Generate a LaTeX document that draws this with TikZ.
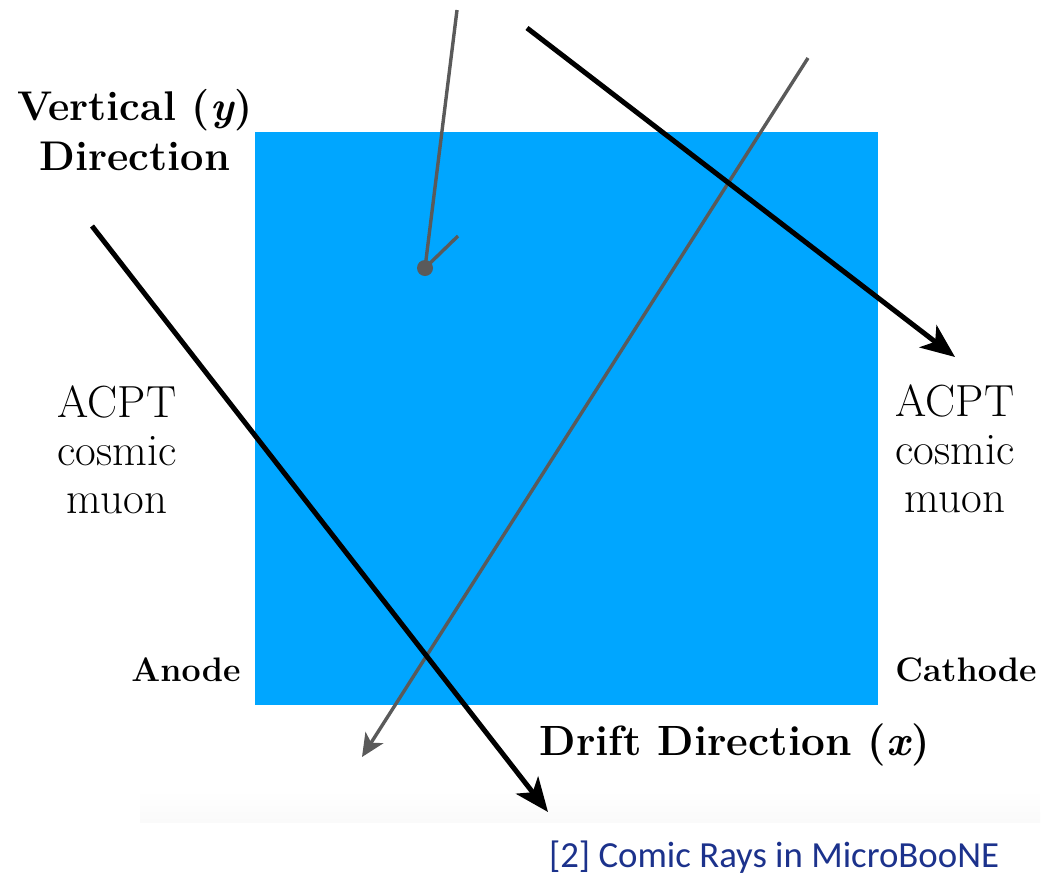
\documentclass[tikz,border=0pt]{standalone}
\usepackage{fontspec}
\newfontfamily\capfont{Carlito}
\usetikzlibrary{arrows.meta}
\definecolor{tpcblue}{RGB}{0,166,255}
\definecolor{trkgray}{RGB}{90,90,90}
\definecolor{capblue}{RGB}{28,50,140}
\tikzset{
  bigbold/.style={font=\fontsize{41.5}{50}\selectfont\bfseries, align=center, inner sep=0pt},
  smallbold/.style={font=\fontsize{34}{40}\selectfont\bfseries, inner sep=0pt},
  muonlabel/.style={font=\fontsize{45}{48}\selectfont, align=center, inner sep=0pt},
  blacktrack/.style={line width=5pt, black, -{Stealth[length=34pt,width=28pt,inset=9pt]}},
  graytrack/.style={line width=3.4pt, trkgray},
  grayarrow/.style={graytrack, -{Stealth[length=23pt,width=21pt,inset=6pt]}},
}
\begin{document}
\begin{tikzpicture}[x=1pt,y=-1pt]
\useasboundingbox (0,0) rectangle (1057,876);
% faint band
\shade[top color=white, bottom color=black!2] (140,790) rectangle (1040,822);
% TPC
\node[fill=tpcblue, inner sep=0pt, minimum width=623pt, minimum height=573pt, anchor=north west] (tpc) at (255,132) {};
% labels
\node[bigbold] (vert) at (135,130) {Vertical (\textit{y\/})\\Direction};
\node[muonlabel] (acptL) at (117,450) {ACPT\\cosmic\\muon};
\node[muonlabel] (acptR) at (955,449) {ACPT\\cosmic\\muon};
\node[smallbold] (anode) at (186,670) {Anode};
\node[smallbold] (cathode) at (966,670) {Cathode};
\node[bigbold, font=\fontsize{42.3}{50}\selectfont\bfseries] (drift) at (735,745) {Drift Direction (\textit{x\/})};
\node[font=\fontsize{36.8}{44}\selectfont\capfont, text=capblue, inner sep=0pt] (cap) at (774,857) {[2] Comic Rays in MicroBooNE};
% track endpoints
\coordinate (a1) at (92,226);
\coordinate (a2) at (548,812);
\coordinate (b1) at (527,28);
\coordinate (b2) at (955,357);
\coordinate (c1) at (808,58);
\coordinate (c2) at (362,757);
\coordinate (d1) at (457,10);
\coordinate (d2) at (458,236);
\node[circle, fill=trkgray, inner sep=0pt, minimum size=16pt] (vtx) at (425,268) {};
% tracks
\draw[graytrack] (d1) -- (vtx.center) -- (d2);
\draw[grayarrow] (c1) -- (c2);
\draw[blacktrack] (b1) -- (b2);
\draw[blacktrack] (a1) -- (a2);
\end{tikzpicture}
\end{document}
